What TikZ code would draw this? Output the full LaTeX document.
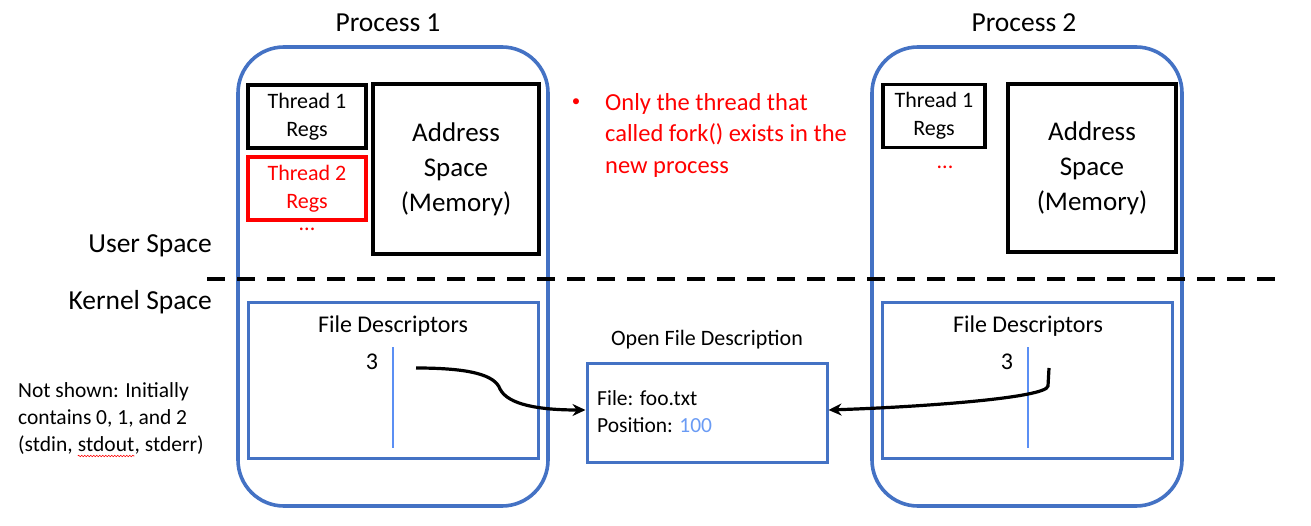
\documentclass[tikz,border=0pt]{standalone}
\usepackage{fontspec}
\setmainfont{Carlito}
\usetikzlibrary{arrows.meta,decorations.pathmorphing}
\definecolor{pblue}{HTML}{4472C4}
\definecolor{lblue}{HTML}{5B8FF4}
\definecolor{nblue}{HTML}{6A9BF4}
\definecolor{fred}{HTML}{FF0000}
\begin{document}
\begin{tikzpicture}[x=1pt,y=-1pt,
  proc/.style={draw=pblue,line width=3.6pt,rounded corners=46pt,minimum width=310pt,minimum height=459pt,inner sep=0pt},
  blk/.style={draw=black,line width=3.2pt,inner sep=0pt,align=center},
  fdbox/.style={draw=pblue,line width=3pt,inner sep=0pt},
  lbl/.style={inner sep=0pt,font=\fontsize{27.5}{30}\selectfont},
  sml/.style={inner sep=0pt,font=\fontsize{22}{28}\selectfont,align=center},
  big/.style={font=\fontsize{27}{35}\selectfont},
  fdt/.style={inner sep=0pt,font=\fontsize{24}{26}\selectfont},
  txt/.style={inner sep=0pt,font=\fontsize{21.5}{26}\selectfont},
  fdline/.style={draw=lblue,line width=1.8pt},
  ptr/.style={draw=black,line width=3.2pt,-{Stealth[length=13pt,width=12pt]}}
]
\useasboundingbox (0,0) rectangle (1311,526);
% processes
\node[proc] (p1) at (393,276.5) {};
\node[proc] (p2) at (1027,276.5) {};
\node[lbl,anchor=base] (p1t) at (388,32) {Process 1};
\node[lbl,anchor=base] (p2t) at (1024,32) {Process 2};
% user space blocks P1
\node[blk,minimum width=118pt,minimum height=63pt,sml] (t1) at (307,116.5) {Thread 1\\Regs};
\node[blk,draw=fred,text=fred,minimum width=118pt,minimum height=63pt,sml] (t2) at (307,188.5) {Thread 2\\Regs};
\node[sml,text=fred] (d1) at (307,229) {...};
\node[blk,big,minimum width=166pt,minimum height=170pt] (as1) at (456,169) {Address\\Space\\(Memory)};
% user space blocks P2
\node[blk,minimum width=102pt,minimum height=63pt,sml] (u1) at (934,116) {Thread 1\\Regs};
\node[sml,text=fred] (d2) at (945,167) {...};
\node[blk,big,minimum width=168pt,minimum height=168pt] (as2) at (1092,168) {Address\\Space\\(Memory)};
% red bullet text
\node[inner sep=0pt,anchor=north west,text=fred,align=left,font=\fontsize{24.5}{31.5}\selectfont] (note) at (605,93) {Only the thread that\\called fork() exists in the\\new process};
\node[inner sep=0pt,text=fred,font=\fontsize{17}{17}\selectfont] (bul) at (576,103) {\textbullet};
% separator
\coordinate (sepL) at (207,279);
\coordinate (sepR) at (1275,279);
\draw[line width=4pt,dash pattern=on 18pt off 12pt] (sepL) -- (sepR);
\node[lbl,anchor=base east] (us) at (212,253) {User Space};
\node[lbl,anchor=base east] (ks) at (212,310) {Kernel Space};
% FD boxes
\node[fdbox,minimum width=290pt,minimum height=155pt] (fd1) at (393,380.5) {};
\node[fdbox,minimum width=290pt,minimum height=155pt] (fd2) at (1027,380.5) {};
\node[fdt,anchor=base] (fd1t) at (393,333) {File Descriptors};
\node[fdt,anchor=base] (fd2t) at (1028,333) {File Descriptors};
\node[fdt,anchor=base] (n1) at (372,369) {3};
\node[fdt,anchor=base] (n2) at (1007,369) {3};
\coordinate (l1a) at (393,347); \coordinate (l1b) at (393,448);
\coordinate (l2a) at (1028,347); \coordinate (l2b) at (1028,448);
\draw[fdline] (l1a) -- (l1b);
\draw[fdline] (l2a) -- (l2b);
% open file description
\node[inner sep=0pt,anchor=base,font=\fontsize{22}{24}\selectfont] (oft) at (707,345) {Open File Description};
\node[fdbox,minimum width=240pt,minimum height=99pt] (ofd) at (707,412.5) {};
\node[txt,anchor=base west] (f1) at (597,405) {File: foo.txt};
\node[txt,anchor=base west] (f2) at (597,432) {Position: \textcolor{nblue}{100}};
% pointers
\coordinate (s1) at (416,368);
\coordinate (s2) at (1049,368);
\draw[ptr] (s1) .. controls (470,368) and (495,375) .. (500,389)
  .. controls (508,405) and (540,410) .. (ofd.west |- 0,410);
\draw[ptr] (s2) -- (1048,386) .. controls (1047,398) and (920,407) .. (ofd.east |- 0,410);
% left note
\node[txt,anchor=base west] (nt1) at (18,397) {Not shown: Initially};
\node[txt,anchor=base west] (nt2) at (18,424) {contains 0, 1, and 2};
\node[txt,anchor=base west] (nt3a) at (18,451) {(stdin,\ \hbox{}};
\node[txt,anchor=base west] (nt3b) at (nt3a.base east) {stdout};
\node[txt,anchor=base west] (nt3c) at (nt3b.base east) {, stderr)};
\coordinate (wa) at ([yshift=-5pt]nt3b.base west);
\coordinate (wb) at ([yshift=-5pt]nt3b.base east);
\draw[fred,line width=0.6pt,decorate,decoration={snake,amplitude=0.8pt,segment length=3pt}] (wa) -- (wb);
\end{tikzpicture}
\end{document}
